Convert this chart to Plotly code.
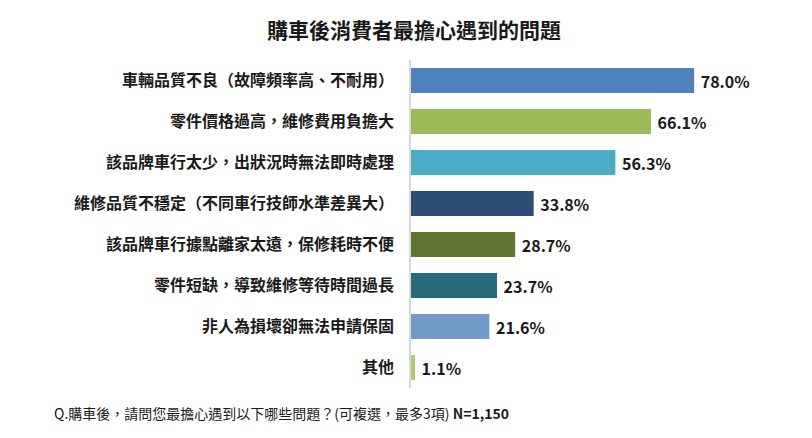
import plotly.graph_objects as go

# 購車後消費者最擔心遇到的問題 (可複選, N=1,150)
categories = [
    "車輛品質不良（故障頻率高、不耐用）",
    "零件價格過高，維修費用負擔大",
    "該品牌車行太少，出狀況時無法即時處理",
    "維修品質不穩定（不同車行技師水準差異大）",
    "該品牌車行據點離家太遠，保修耗時不便",
    "零件短缺，導致維修等待時間過長",
    "非人為損壞卻無法申請保固",
    "其他",
]
values = [78.0, 66.1, 56.3, 33.8, 28.7, 23.7, 21.6, 1.1]
bar_colors = ["#4F81BD", "#9BBB59", "#4BACC6", "#2C4D75",
              "#5F7530", "#276A7C", "#729ACA", "#AFC97A"]

FONT = "Noto Sans CJK TC"
W, H = 812, 438
# page has an 8px body margin, so everything is laid out 8px up/left
L, R, T, B = 403, 46, 52, 58

fig = go.Figure(go.Bar(
    x=values, y=categories, orientation="h",
    marker=dict(color=bar_colors, line=dict(width=0)),
    text=[f" <b>{v:.1f}%</b>" for v in values],
    textposition="outside",
    textfont=dict(family=FONT, size=16, color="#1a1a1a"),
    cliponaxis=False,
    hoverinfo="skip",
))

fig.update_layout(
    width=W, height=H,
    margin=dict(l=L, r=R, t=T, b=B, autoexpand=False),
    paper_bgcolor="white", plot_bgcolor="white",
    bargap=0.39,
    showlegend=False,
    title=dict(text="<b>購車後消費者最擔心遇到的問題</b>",
               xref="container", x=406 / W, xanchor="center",
               yref="container", y=1 - 23 / H, yanchor="middle",
               font=dict(family=FONT, size=21, color="#1a1a1a")),
    xaxis=dict(range=[0, 100], visible=False, automargin=False),
    yaxis=dict(autorange="reversed", showline=True, linecolor="#D9D9D9",
               linewidth=1.5, showgrid=False, ticks="", automargin=False,
               ticklabelstandoff=12,
               tickfont=dict(family=FONT, size=16, color="#1a1a1a"),
               tickvals=categories,
               ticktext=[f"<b>{c}</b>" for c in categories]),
    annotations=[dict(
        text="Q.購車後，請問您最擔心遇到以下哪些問題？(可複選，最多3項) <b>N=1,150</b>",
        xref="paper", yref="paper",
        x=(44 - L) / (W - L - R), y=-(405 - (H - B)) / (H - T - B),
        xanchor="left", yanchor="middle",
        font=dict(family=FONT, size=14, color="#1a1a1a"), showarrow=False,
    )],
)

fig.write_html("out.html")
